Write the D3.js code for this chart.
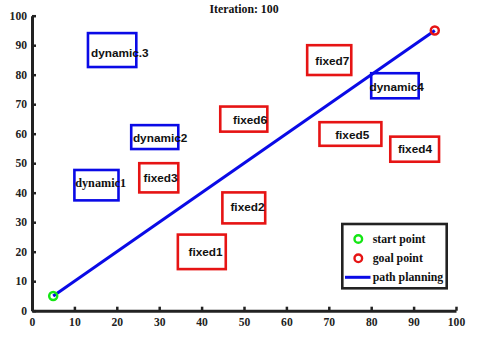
<!DOCTYPE html>
<html>
<head>
<meta charset="utf-8">
<script src="https://cdn.jsdelivr.net/npm/d3@7"></script>
<style>
  html, body { margin: 0; padding: 0; background: #fff; }
  svg { display: block; }
</style>
</head>
<body>
<svg id="chart" width="480" height="339"></svg>
<script>
// ---- data ----
const titleText = "Iteration: 100";
const xTicks = [0, 10, 20, 30, 40, 50, 60, 70, 80, 90, 100];
const yTicks = [0, 10, 20, 30, 40, 50, 60, 70, 80, 90, 100];

const obstacleNames = ["dynamic.3", "dynamic2", "dynamic1", "fixed3", "fixed2", "fixed1", "fixed6", "fixed7", "dynamic4", "fixed5", "fixed4"];
const obstacleKinds = ["dynamic", "dynamic", "dynamic", "fixed", "fixed", "fixed", "fixed", "fixed", "dynamic", "fixed", "fixed"];
const obstacleX0 = [13.2, 23.4, 10.0, 25.3, 44.9, 34.4, 44.4, 64.9, 80.0, 67.8, 84.5];
const obstacleX1 = [24.6, 34.5, 20.4, 34.5, 55.0, 45.7, 55.5, 75.3, 91.2, 82.4, 96.0];
const obstacleY0 = [82.6, 54.8, 37.4, 40.1, 29.6, 14.1, 60.7, 79.9, 72.0, 55.9, 50.5];
const obstacleY1 = [94.1, 62.9, 47.7, 50.0, 40.1, 25.8, 69.2, 90.0, 80.5, 63.9, 59.0];
const labelX = [13.9, 23.8, 10.2, 26.3, 46.8, 36.9, 47.4, 66.8, 79.6, 71.5, 86.3];
const labelY = [87.4, 58.5, 43.2, 45.1, 35.0, 20.0, 64.6, 84.6, 75.7, 59.6, 54.7];

const startPoint = [5, 5];
const goalPoint = [95, 95];
const pathX = [5, 95];
const pathY = [5, 95];

const legendLabels = ["start point", "goal point", "path planning"];

// ---- drawing ----
const svg = d3.select("#chart");
const x = d3.scaleLinear().domain([0, 100]).range([32, 456]);
const y = d3.scaleLinear().domain([0, 100]).range([310.7, 15.7]);

const serif = "'Liberation Serif', 'Times New Roman', serif";
const sans = "'Liberation Sans', Arial, sans-serif";

// title
svg.append("text")
  .attr("x", (x(0) + x(100)) / 2)
  .attr("y", 9)
  .attr("text-anchor", "middle")
  .attr("dominant-baseline", "central")
  .style("font-family", serif)
  .style("font-weight", "bold")
  .style("font-size", "11.8px")
  .attr("fill", "#111")
  .text(titleText);

// obstacles
const colorOf = k => k === "dynamic" ? "#0a0ae6" : "#e61414";
const obs = svg.append("g");
obstacleNames.forEach((name, i) => {
  obs.append("rect")
    .attr("x", x(obstacleX0[i]))
    .attr("y", y(obstacleY1[i]))
    .attr("width", x(obstacleX1[i]) - x(obstacleX0[i]))
    .attr("height", y(obstacleY0[i]) - y(obstacleY1[i]))
    .attr("fill", "none")
    .attr("stroke", colorOf(obstacleKinds[i]))
    .attr("stroke-width", 2.6);
});

// path
const line = d3.line().x(d => x(d[0])).y(d => y(d[1]));
svg.append("path")
  .datum(pathX.map((v, i) => [v, pathY[i]]))
  .attr("d", line)
  .attr("fill", "none")
  .attr("stroke", "#0a0ae6")
  .attr("stroke-width", 3);

// labels (drawn over the boxes and path)
obstacleNames.forEach((name, i) => {
  svg.append("text")
    .attr("x", x(labelX[i]))
    .attr("y", y(labelY[i]))
    .attr("dominant-baseline", "central")
    .style("font-family", name === "dynamic1" ? serif : sans)
    .style("font-weight", "bold")
    .style("font-size", name === "dynamic1" ? "12.2px" : "11.8px")
    .attr("fill", "#111")
    .text(name);
});

// start / goal markers
svg.append("circle")
  .attr("cx", x(startPoint[0])).attr("cy", y(startPoint[1])).attr("r", 4)
  .attr("fill", "none").attr("stroke", "#14e614").attr("stroke-width", 2.5);
svg.append("circle")
  .attr("cx", x(goalPoint[0])).attr("cy", y(goalPoint[1])).attr("r", 4)
  .attr("fill", "none").attr("stroke", "#e61414").attr("stroke-width", 2.5);

// axes
const xAxis = d3.axisBottom(x).tickValues(xTicks).tickSizeInner(-4).tickSizeOuter(0).tickPadding(7.5);
const yAxis = d3.axisLeft(y).tickValues(yTicks).tickSizeInner(-4).tickSizeOuter(0).tickPadding(5);

const gx = svg.append("g").attr("transform", `translate(0,${y(0)})`).call(xAxis);
const gy = svg.append("g").attr("transform", `translate(${x(0)},0)`).call(yAxis);
[gx, gy].forEach(g => {
  g.select(".domain").attr("stroke", "#222").attr("stroke-width", 3);
  g.selectAll(".tick line").attr("stroke", "#222").attr("stroke-width", 2.5);
  g.selectAll(".tick text")
    .style("font-family", serif)
    .style("font-weight", "bold")
    .style("font-size", "11.6px")
    .attr("fill", "#222");
});

// legend
const lg = svg.append("g");
lg.append("rect")
  .attr("x", 342.3).attr("y", 224)
  .attr("width", 104.4).attr("height", 64.3)
  .attr("fill", "#fff").attr("stroke", "#222").attr("stroke-width", 2.6);
const rowY = [239, 258.3, 277.3];
lg.append("circle").attr("cx", 358.3).attr("cy", rowY[0]).attr("r", 3.8)
  .attr("fill", "none").attr("stroke", "#14e614").attr("stroke-width", 2.4);
lg.append("circle").attr("cx", 358.3).attr("cy", rowY[1]).attr("r", 3.8)
  .attr("fill", "none").attr("stroke", "#e61414").attr("stroke-width", 2.4);
lg.append("line").attr("x1", 345).attr("x2", 370.5).attr("y1", rowY[2]).attr("y2", rowY[2])
  .attr("stroke", "#0a0ae6").attr("stroke-width", 3);
legendLabels.forEach((t, i) => {
  lg.append("text")
    .attr("x", 372.7).attr("y", rowY[i])
    .attr("dominant-baseline", "central")
    .style("font-family", serif)
    .style("font-weight", "bold")
    .style("font-size", "11.8px")
    .attr("fill", "#111")
    .text(t);
});
</script>
</body>
</html>
